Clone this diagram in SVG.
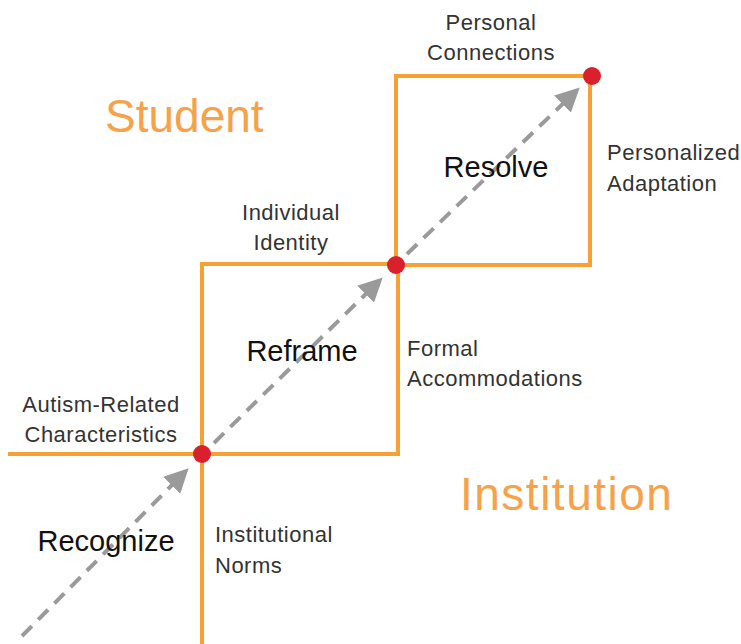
<svg xmlns="http://www.w3.org/2000/svg" width="741" height="644" viewBox="0 0 741 644">
<defs>
<style>
.ln{stroke:#F7A035;stroke-width:4;fill:none;stroke-linecap:square}
.ar{stroke:#9A9A9A;stroke-width:4;fill:none;stroke-dasharray:14 9}
.dot{fill:#D9202B}
.lbl{font-family:"Liberation Sans",Arial,sans-serif;font-size:22px;letter-spacing:0.5px;fill:#333}
.stg{font-family:"Liberation Sans",Arial,sans-serif;font-size:29px;fill:#111}
.big{font-family:"Liberation Sans",Arial,sans-serif;font-size:46px;fill:#F5A24A}
</style>
<marker id="ah" markerWidth="6" markerHeight="6" refX="4" refY="3" orient="auto" markerUnits="strokeWidth">
<path d="M0,0 L6,3 L0,6 Z" fill="#9A9A9A"/>
</marker>
</defs>
<rect width="741" height="644" fill="#fff"/>
<g id="connectors">
<line class="ar" x1="22" y1="636" x2="183" y2="474" marker-end="url(#ah)"/>
<line class="ar" x1="214" y1="443" x2="377" y2="283" marker-end="url(#ah)"/>
<line class="ar" x1="407" y1="254" x2="574" y2="93" marker-end="url(#ah)"/>
</g>
<g id="steps">
<polyline class="ln" points="10,454 398,454 398,264 202,264 202,644"/>
<polyline class="ln" points="396,265 590,265 590,76 396,76 396,265"/>
</g>
<g id="recognize">
<text class="stg" x="106" y="551" text-anchor="middle">Recognize</text>
<text class="lbl" x="101" y="412" text-anchor="middle">Autism-Related</text>
<text class="lbl" x="101" y="442" text-anchor="middle">Characteristics</text>
<text class="lbl" x="215" y="542">Institutional</text>
<text class="lbl" x="215" y="573">Norms</text>
<circle class="dot" cx="202" cy="454" r="9"/>
</g>
<g id="reframe">
<text class="stg" x="302" y="361" text-anchor="middle">Reframe</text>
<text class="lbl" x="291" y="220" text-anchor="middle">Individual</text>
<text class="lbl" x="291" y="250" text-anchor="middle">Identity</text>
<text class="lbl" x="407" y="356">Formal</text>
<text class="lbl" x="407" y="386">Accommodations</text>
<circle class="dot" cx="396" cy="265" r="9"/>
</g>
<g id="resolve">
<text class="stg" x="496" y="177" text-anchor="middle">Resolve</text>
<text class="lbl" x="491" y="30" text-anchor="middle">Personal</text>
<text class="lbl" x="491" y="60" text-anchor="middle">Connections</text>
<text class="lbl" x="607" y="160">Personalized</text>
<text class="lbl" x="607" y="191">Adaptation</text>
<circle class="dot" cx="592" cy="76" r="9"/>
</g>
<text class="big" x="105" y="132">Student</text>
<text class="big" x="460" y="510" style="letter-spacing:1.5px">Institution</text>
</svg>
